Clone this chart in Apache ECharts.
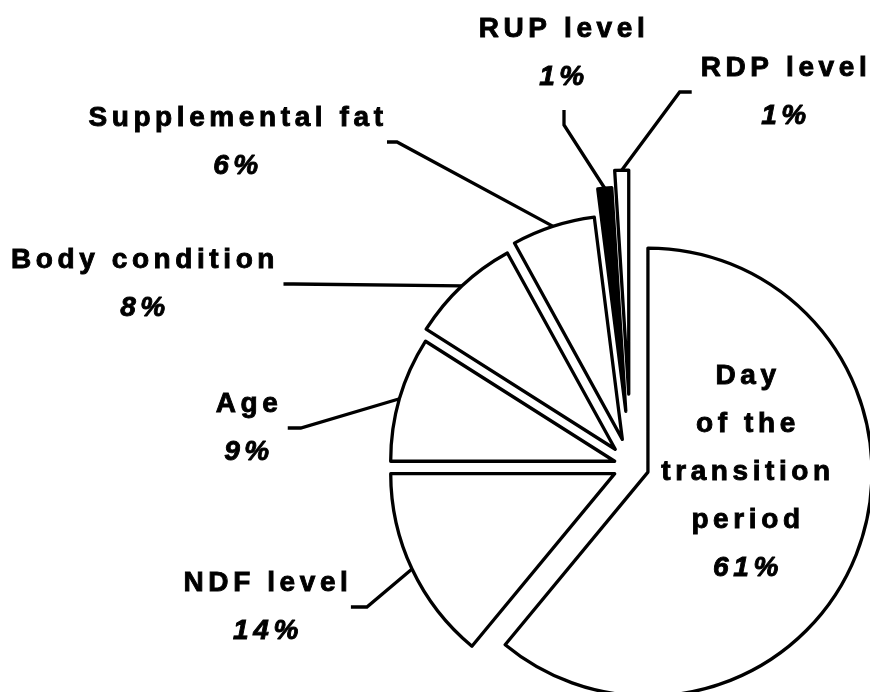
<!DOCTYPE html>
<html>
<head>
<meta charset="utf-8">
<script src="https://cdn.jsdelivr.net/npm/echarts@6/dist/echarts.min.js"></script>
<style>
  html, body { margin: 0; padding: 0; background: #fff; }
  #chart { width: 870px; height: 692px; }
</style>
</head>
<body>
<div id="chart"></div>
<script>
// factors, clockwise from 12 o'clock
const factors = [
  "Day\nof the\ntransition\nperiod",
  "NDF level",
  "Age",
  "Body condition",
  "Supplemental fat",
  "RUP level",
  "RDP level",
];
const shares = [61, 14, 9, 8, 6, 1, 1];

// layout
const PIE_CENTER = [631, 466];
const PIE_RADIUS = 224;
const explode = [18, 18, 17, 23, 28, 55, 72];
const labelAt = [
  [748, 472],
  [268, 607],
  [249, 428],
  [145, 284],
  [238, 142],
  [564, 53],
  [786, 92],
];
// which side of the label the leader line meets, gap to text, knee length
const guide = [
  null,
  ["right", 3, 16],
  ["right", 10, 13],
  ["right", 9, 10],
  ["right", 4, 10],
  ["bottom", 9, 15],
  ["left", 9, 12],
];
const FONT = "'Liberation Sans', Arial, sans-serif";
const SPACING = 4.6;

// canvas letter spacing for the stretched label type
const fillText = CanvasRenderingContext2D.prototype.fillText;
const strokeText = CanvasRenderingContext2D.prototype.strokeText;
CanvasRenderingContext2D.prototype.fillText = function () {
  this.letterSpacing = SPACING + "px";
  return fillText.apply(this, arguments);
};
CanvasRenderingContext2D.prototype.strokeText = function () {
  this.letterSpacing = SPACING + "px";
  return strokeText.apply(this, arguments);
};

function labelPadding(i) {
  const g = guide[i];
  if (!g) return 0;
  if (g[0] === "bottom") return [g[1], 0];
  const n = Math.max(...factors[i].split("\n").map((s) => s.length));
  const extra = g[0] === "right" ? ((n - 2) * SPACING) / 2 : (n * SPACING) / 2;
  return [0, extra + g[1]];
}

const chart = echarts.init(document.getElementById("chart"));

const textStyle = {
  fontFamily: FONT,
  fontSize: 28,
  fontWeight: "bold",
  color: "#000",
  textBorderColor: "#000",
  textBorderWidth: 0.9,
  lineHeight: 48,
};

const total = shares.reduce((a, b) => a + b, 0);
let acc = 0;
const series = shares.map((v, i) => {
  const mid = ((acc + v / 2) / total) * 2 * Math.PI;
  acc += v;
  const off = explode[i];
  return {
    type: "pie",
    radius: PIE_RADIUS,
    center: [PIE_CENTER[0] + off * Math.sin(mid), PIE_CENTER[1] - off * Math.cos(mid)],
    startAngle: 90,
    clockwise: true,
    avoidLabelOverlap: false,
    silent: true,
    animation: false,
    label: {
      position: i === 0 ? "inside" : "outside",
      color: "#000",
      backgroundColor: "rgba(255,255,255,0)",
      formatter: (p) =>
        p.name.split("\n").map((s) => "{n|" + s + "}").join("\n") + "\n{p|" + p.value + "%}",
      rich: {
        n: textStyle,
        p: Object.assign({}, textStyle, { fontStyle: "italic" }),
      },
    },
    labelLayout: (params) => {
      if (params.dataIndex !== i) return {};
      return { x: labelAt[i][0], y: labelAt[i][1], align: "center", verticalAlign: "middle" };
    },
    data: factors.map((name, j) => {
      if (j !== i) {
        return {
          name: name,
          value: shares[j],
          itemStyle: { color: "none", borderWidth: 0 },
          label: { show: false },
          labelLine: { show: false },
        };
      }
      return {
        name: name,
        value: shares[j],
        itemStyle: { color: name === "RUP level" ? "#000" : "#fff", borderColor: "#000", borderWidth: 3.3 },
        label: { show: true, padding: labelPadding(j) },
        labelLine: {
          show: !!guide[j],
          length2: guide[j] ? guide[j][2] : 0,
          lineStyle: { color: "#000", width: 3.3 },
        },
      };
    }),
  };
});

chart.setOption({
  backgroundColor: "#fff",
  animation: false,
  series: series,
});
</script>
</body>
</html>
